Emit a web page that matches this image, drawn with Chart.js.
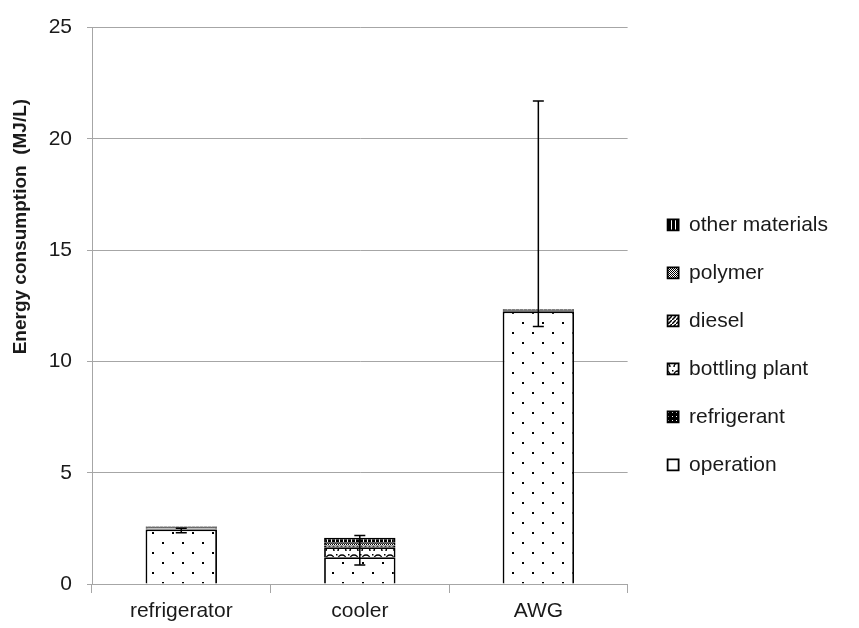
<!DOCTYPE html>
<html>
<head>
<meta charset="utf-8">
<script src="https://cdn.jsdelivr.net/npm/chart.js@4.4.1/dist/chart.umd.min.js"></script>
<style>
html, body { margin: 0; padding: 0; background: #fff; }
#wrap { width: 859px; height: 628px; }
</style>
</head>
<body>
<div id="wrap"><canvas id="chEnergy"></canvas></div>
<script>
/* energy consumption per litre, stacked by source */

var categories = ['refrigerator', 'cooler', 'AWG'];
var operation = [2.45, 1.2, 12.25];
var refrigerant = [0.04, 0, 0.05];
var bottlingPlant = [0.06, 0.45, 0];
var diesel = [0, 0.08, 0];
var polymer = [0.02, 0.15, 0];
var otherMaterials = [0.03, 0.2, 0.05];
// error bar ends
var errLow = [2.3, 0.85, 11.57];
var errHigh = [2.5, 2.18, 21.7];
var yTicks = [0, 5, 10, 15, 20, 25];

var font = 'Liberation Sans, Arial, sans-serif';
var gridColor = '#a6a6a6';

// hatch fills
function makePattern(w, h, draw) {
  var c = document.createElement('canvas');
  c.width = w; c.height = h;
  var g = c.getContext('2d');
  g.fillStyle = '#fff';
  g.fillRect(0, 0, w, h);
  g.fillStyle = '#000';
  g.strokeStyle = '#000';
  draw(g);
  return g.createPattern(c, 'repeat');
}

var pDots = makePattern(20, 20, function (g) {
  g.fillRect(2, 2, 2, 2);
  g.fillRect(12, 12, 2, 2);
});
var pRefrig = makePattern(4, 4, function (g) {
  g.fillRect(0, 0, 4, 4);
  g.fillStyle = '#fff';
  g.fillRect(0, 0, 1, 1);
});
var pWave = makePattern(12, 8, function (g) {
  g.lineWidth = 1.5;
  g.beginPath();
  g.arc(6, 7, 4, Math.PI, 0);
  g.stroke();
  g.fillRect(0, 2, 1.5, 1.5);
});
var pDiesel = makePattern(4, 4, function (g) {
  g.lineWidth = 1.5;
  g.beginPath();
  g.moveTo(0, 4); g.lineTo(4, 0);
  g.stroke();
});
var pChecker = makePattern(2, 2, function (g) {
  g.fillRect(0, 0, 1, 1);
  g.fillRect(1, 1, 1, 1);
});
var pStripes = makePattern(4, 4, function (g) {
  g.fillRect(0, 0, 3, 4);
});

function series(label, data, fill) {
  return {
    label: label,
    data: data,
    backgroundColor: fill,
    borderColor: '#000',
    borderWidth: 1.8,
    barPercentage: 0.4,
    categoryPercentage: 1
  };
}

// error bars drawn through the scales
var errorBars = {
  id: 'errorBars',
  afterDatasetsDraw: function (chart) {
    var ctx = chart.ctx, xs = chart.scales.x, ys = chart.scales.y;
    ctx.save();
    ctx.strokeStyle = '#000';
    ctx.lineWidth = 1.5;
    categories.forEach(function (c, i) {
      var x = xs.getPixelForValue(i);
      var y1 = ys.getPixelForValue(errLow[i]);
      var y2 = ys.getPixelForValue(errHigh[i]);
      ctx.beginPath();
      ctx.moveTo(x, y1); ctx.lineTo(x, y2);
      ctx.moveTo(x - 5.5, y1); ctx.lineTo(x + 5.5, y1);
      ctx.moveTo(x - 5.5, y2); ctx.lineTo(x + 5.5, y2);
      ctx.stroke();
    });
    ctx.restore();
  }
};

// leave some white between plot and legend
var legendGap = {
  id: 'legendGap',
  afterLayout: function (chart) {
    if (chart.legend) {
      chart.legend.left += 13;
      chart.legend.right += 13;
    }
  }
};

var chEnergy = document.getElementById('chEnergy');
new Chart(chEnergy, {
  type: 'bar',
  data: {
    labels: categories,
    datasets: [
      series('operation', operation, pDots),
      series('refrigerant', refrigerant, pRefrig),
      series('bottling plant', bottlingPlant, pWave),
      series('diesel', diesel, pDiesel),
      series('polymer', polymer, pChecker),
      series('other materials', otherMaterials, pStripes)
    ]
  },
  options: {
    responsive: true,
    maintainAspectRatio: false,
    animation: false,
    layout: { padding: { top: 22, right: 34, bottom: 0, left: 0 } },
    plugins: {
      tooltip: { enabled: false },
      legend: {
        position: 'right',
        align: 'start',
        reverse: true,
        title: { display: true, text: '', padding: { top: 151, bottom: 0 } },
        labels: {
          boxWidth: 11,
          boxHeight: 11,
          padding: 27,
          color: '#1a1a1a',
          font: { family: font, size: 21 }
        }
      }
    },
    scales: {
      x: {
        stacked: true,
        grid: { display: true, drawOnChartArea: false, tickLength: 9, color: gridColor },
        border: { color: gridColor },
        ticks: { color: '#1a1a1a', padding: 6, font: { family: font, size: 21 } },
        afterFit: function (s) { s.height = 44; }
      },
      y: {
        stacked: true,
        min: yTicks[0],
        max: yTicks[yTicks.length - 1],
        ticks: { stepSize: yTicks[1] - yTicks[0], color: '#1a1a1a', padding: 15, font: { family: font, size: 21 } },
        grid: { color: gridColor, tickLength: 5 },
        border: { color: gridColor },
        title: {
          display: true,
          // leading blanks lift the title towards the top like the original
          text: '                              Energy consumption  (MJ/L)',
          color: '#1a1a1a',
          padding: { top: 9, bottom: 0 },
          font: { family: font, size: 19, weight: 'bold' }
        },
        afterFit: function (s) { s.width = 92; }
      }
    }
  },
  plugins: [errorBars, legendGap]
});
</script>
</body>
</html>
